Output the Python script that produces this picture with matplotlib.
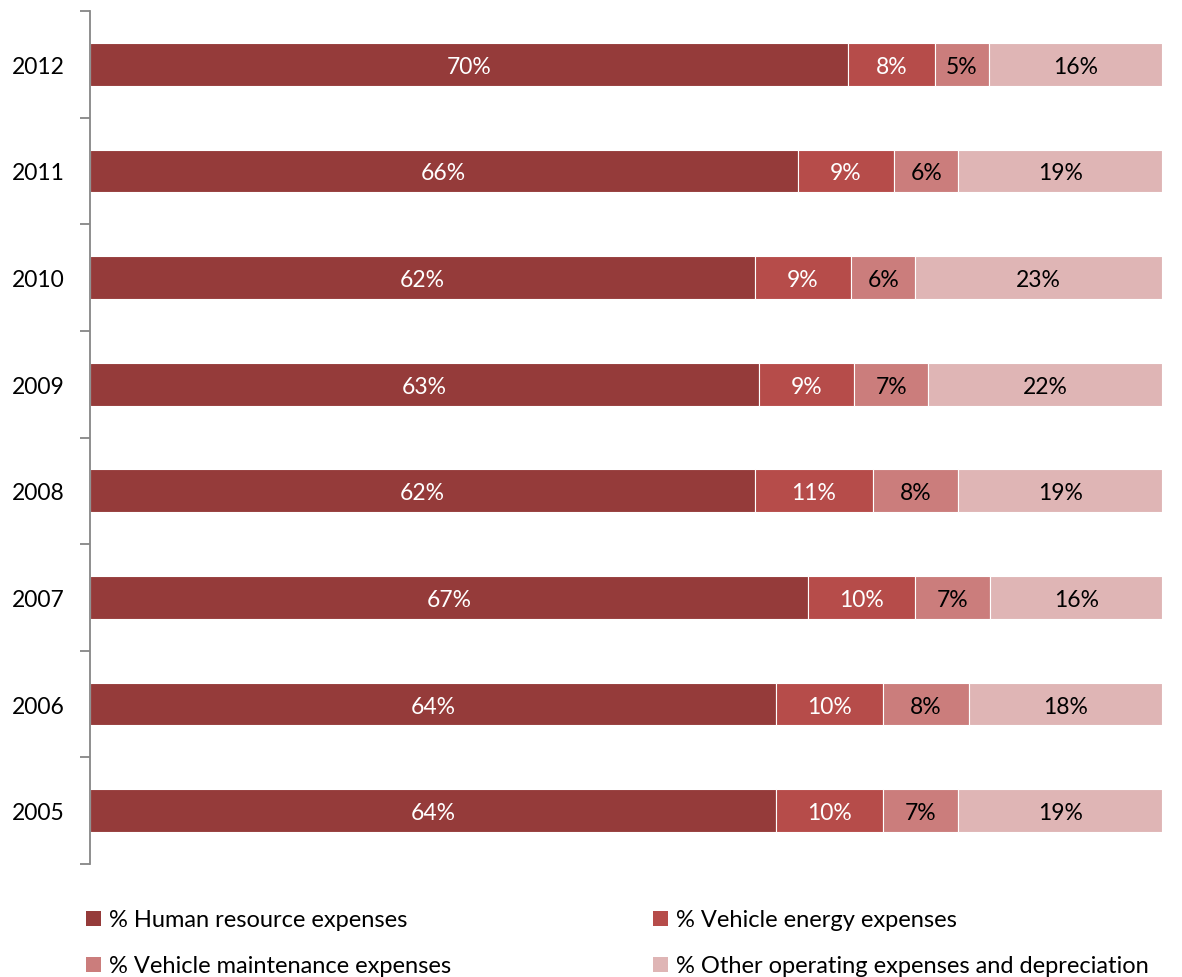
import matplotlib
matplotlib.use("Agg")
import matplotlib.pyplot as plt
import numpy as np
from matplotlib.patches import Rectangle

years = ["2005", "2006", "2007", "2008", "2009", "2010", "2011", "2012"]
human = [64, 64, 67, 62, 63, 62, 66, 70]
energy = [10, 10, 10, 11, 9, 9, 9, 8]
maint = [7, 8, 7, 8, 7, 6, 6, 5]
other = [19, 18, 16, 19, 22, 23, 19, 16]

series_names = [
    "% Human resource expenses",
    "% Vehicle energy expenses",
    "% Vehicle maintenance expenses",
    "% Other operating expenses and depreciation",
]
colors = ["#953B3A", "#B64C4A", "#CB7D7C", "#DFB5B5"]
text_colors = ["white", "white", "black", "black"]

plt.rcParams["font.family"] = ["Lato", "DejaVu Sans"]

W, H = 1182, 978
fig = plt.figure(figsize=(W / 100, H / 100), dpi=100)
ax = fig.add_axes([90 / W, 1 - 865 / H, (1162 - 90) / W, (865 - 12) / H])

data = np.array([human, energy, maint, other], dtype=float)
totals = data.sum(axis=0)
shares = data / totals * 100
y = np.arange(len(years))
left = np.zeros(len(years))
for vals, shr, col, tc in zip(data, shares, colors, text_colors):
    bars = ax.barh(y, shr, left=left, height=0.4, color=col,
                   edgecolor="white", linewidth=0.8)
    for b, v in zip(bars, vals):
        ax.text(b.get_x() + b.get_width() / 2, b.get_y() + b.get_height() / 2,
                f"{int(v)}%", ha="center", va="center_baseline", color=tc,
                fontsize=16.5)
    left += shr

ax.set_xlim(0, 100)
ax.set_ylim(-0.5, len(years) - 0.5)
ax.set_yticks(y)
ax.set_yticklabels(years, fontsize=16.5)
ax.set_yticks(np.arange(-0.5, len(years)), minor=True)
ax.tick_params(axis="y", which="major", length=0, pad=18)
ax.tick_params(axis="y", which="minor", length=7, width=1.3, color="#868686")
ax.set_xticks([])
for s in ["top", "right", "bottom"]:
    ax.spines[s].set_visible(False)
ax.spines["left"].set_color("#868686")
ax.spines["left"].set_linewidth(1.3)

# legend laid out in two columns below the bars
col_x = [86, 653]
box_mid = [919, 965]
baseline = [927, 973]
box = 15
for i, (name, col) in enumerate(zip(series_names, colors)):
    cx = col_x[i % 2]
    r = i // 2
    fig.patches.append(Rectangle((cx / W, 1 - (box_mid[r] + box / 2) / H),
                                 box / W, box / H, transform=fig.transFigure,
                                 facecolor=col, edgecolor="none"))
    fig.text((cx + box + 8) / W, 1 - baseline[r] / H, name, ha="left",
             va="baseline", fontsize=17, color="black")

fig.savefig("out.png", dpi=100)
